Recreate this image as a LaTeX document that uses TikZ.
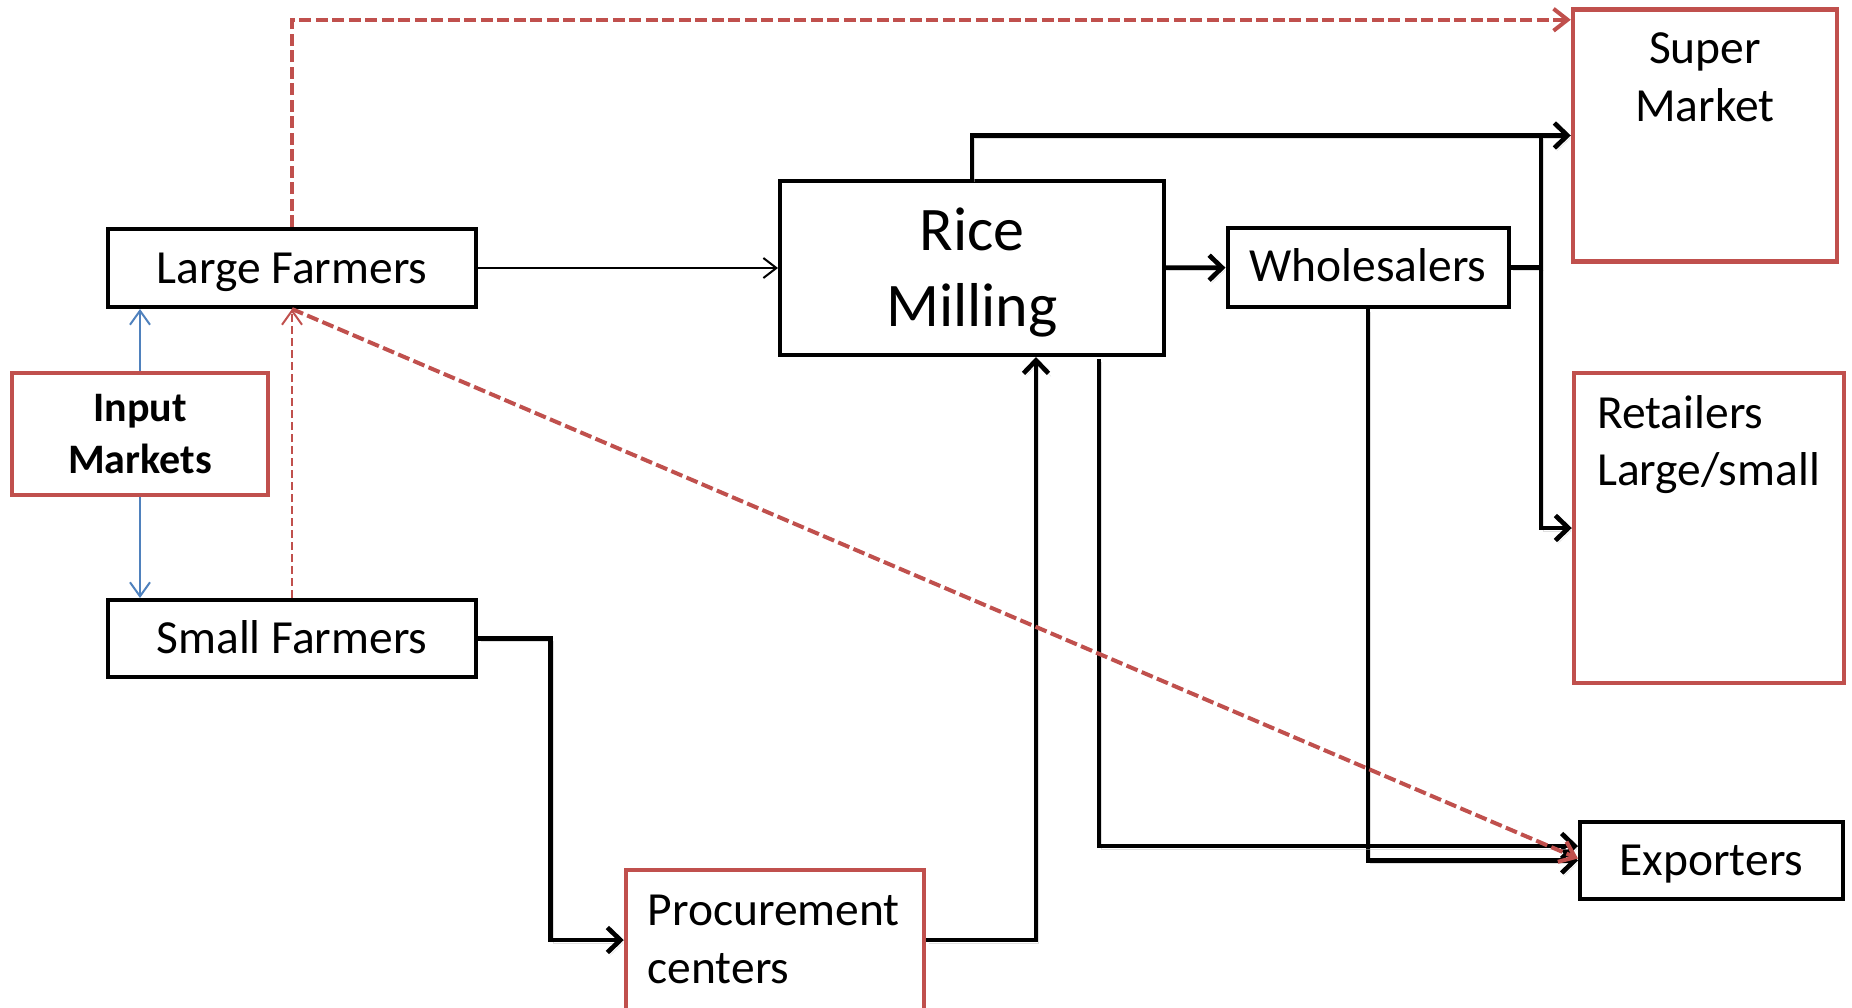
\documentclass[tikz,border=0pt]{standalone}
\usepackage{fontspec}
\setmainfont{Carlito}
\usetikzlibrary{arrows.meta,calc}
\definecolor{offred}{HTML}{C0504D}
\definecolor{offblue}{HTML}{4F81BD}
\begin{document}
\begin{tikzpicture}[x=1pt,y=-1pt,
  blk/.style={draw=black, line width=4pt, inner sep=0pt, fill=white},
  rbox/.style={draw=offred, line width=4.5pt, inner sep=0pt, fill=white},
  txt/.style={font=\fontsize{47.5}{58}\selectfont, inner sep=0pt, anchor=base},
  txtl/.style={txt, anchor=base west},
  bigtxt/.style={font=\fontsize{62}{76}\selectfont, inner sep=0pt, anchor=base},
  boldtxt/.style={font=\fontsize{42}{51}\selectfont\bfseries, inner sep=0pt, anchor=base},
  shadow/.style={preaction={draw=black!25, opacity=0.5, transform canvas={shift={(2.5pt,-3pt)}}}},
  conn/.style={shadow, draw=black, line width=4.7pt, -{Straight Barb[length=13pt,width=25pt]}},
  plain/.style={shadow, draw=black, line width=4.7pt},
  thinarr/.style={draw=black, line width=2pt, -{Straight Barb[length=13pt,width=20pt]}},
  bluearr/.style={draw=offblue, line width=2pt, -{Straight Barb[length=14pt,width=20pt]}},
  rdthin/.style={draw=offred, line width=2pt, dash pattern=on 8pt off 4pt, -{Straight Barb[length=14pt,width=20pt]}},
  rdthick/.style={draw=offred, line width=4pt, dash pattern=on 12pt off 4.5pt, -{Straight Barb[length=14pt,width=22pt]}}
]
\useasboundingbox (0,0) rectangle (1852,1007);
\clip (0,0) rectangle (1852,1007);

% boxes
\node[blk, minimum width=368.5pt, minimum height=78pt] (lf) at (292,268) {};
\node[rbox, minimum width=256pt, minimum height=122pt] (im) at (140,434) {};
\node[blk, minimum width=368.5pt, minimum height=77pt] (sf) at (292,638.5) {};
\node[blk, minimum width=384pt, minimum height=174pt] (rm) at (972,268) {};
\node[blk, minimum width=281pt, minimum height=79pt] (wh) at (1368,267.5) {};
\node[rbox, minimum width=264pt, minimum height=252pt] (sm) at (1705,135.5) {};
\node[rbox, minimum width=270pt, minimum height=310pt] (rt) at (1709,528) {};
\node[blk, minimum width=263pt, minimum height=77pt] (ex) at (1711.5,860.5) {};
\node[rbox, minimum width=298pt, minimum height=140pt] (pc) at (775,940) {};

% texts
\node[txt] (lft) at (292,283) {Large Farmers};
\node[txt] (sft) at (292,653.5) {Small Farmers};
\node[bigtxt] (rmt1) at (972,250) {Rice};
\node[bigtxt] (rmt2) at (972,326.7) {Milling};
\node[txt] (wht) at (1368,281.7) {Wholesalers};
\node[boldtxt] (imt1) at (140,421.7) {Input};
\node[boldtxt] (imt2) at (140,473) {Markets};
\node[txt] (smt1) at (1705,63) {Super};
\node[txt] (smt2) at (1705,121) {Market};
\node[txtl] (rtt1) at (1597,428) {Retailers};
\node[txtl] (rtt2) at (1597,485) {Large/small};
\node[txt] (ext) at (1711.5,875) {Exporters};
\node[txtl] (pct1) at (647.5,925) {Procurement};
\node[txtl] (pct2) at (647.5,983) {centers};

% black connectors
\draw[thinarr] (lf) -- (rm);
\draw[conn] (rm) -- (wh);
\draw[conn] (rm.north) |- (sm.west);
\coordinate (j1) at (1541,135.5);
\draw[plain] (wh.east) -- (wh.east -| j1);
\draw[conn] (j1) |- (rt.west);
\draw[conn] (wh.south) |- (ex.west);
\coordinate (r1) at (1099,359);
\draw[conn] (r1) |- ([yshift=14.5pt]ex.west);
\draw[conn] (pc.east) -| ([xshift=64pt]rm.south);
\draw[conn] (sf.east) -- ++(72,0) |- (pc.west);

% blue connectors
\draw[bluearr] (im.north) -- (im.north |- lf.south);
\draw[bluearr] (im.south) -- (im.south |- sf.north);

% red dashed connectors
\draw[rdthin] (sf.north) -- (lf.south);
\draw[rdthick] (lf.south) -- ([yshift=2pt]ex.west);
\draw[rdthick] (lf.north) |- ([yshift=-12.5pt]sm.north west);
\end{tikzpicture}
\end{document}
